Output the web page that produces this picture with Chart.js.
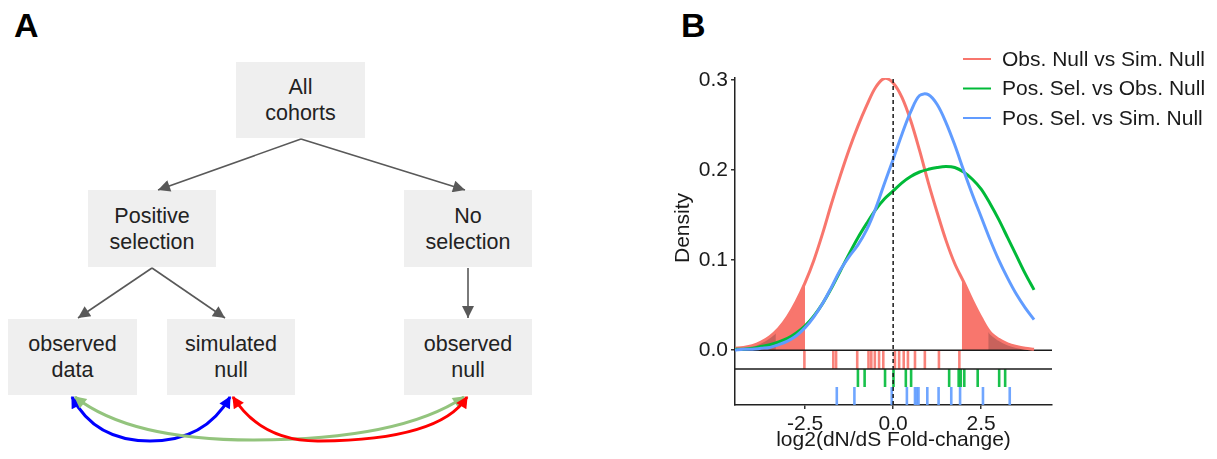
<!DOCTYPE html>
<html><head><meta charset="utf-8">
<script src="https://cdn.jsdelivr.net/npm/chart.js@4"></script>
<style>
html,body{margin:0;padding:0;background:#fff;}
body{width:1217px;height:459px;position:relative;overflow:hidden;font-family:'Liberation Sans',Arial,sans-serif;}
.box{position:absolute;background:#efefef;display:flex;align-items:center;justify-content:center;text-align:center;font-size:21.5px;line-height:26px;color:#222;}
.plabel{position:absolute;font-weight:bold;font-size:34px;line-height:34px;color:#000;}
#arrows{position:absolute;left:0;top:0;}
#wrapB{position:absolute;left:660px;top:0;width:557px;height:459px;}
</style></head>
<body>
<div class="plabel" style="left:14px;top:8px">A</div>
<div class="plabel" style="left:681px;top:8px">B</div>

<div class="box" style="left:236px;top:62px;width:129px;height:76px">All<br>cohorts</div>
<div class="box" style="left:88px;top:190px;width:128px;height:77px">Positive<br>selection</div>
<div class="box" style="left:404px;top:190px;width:128px;height:77px">No<br>selection</div>
<div class="box" style="left:8px;top:319px;width:129px;height:76px">observed<br>data</div>
<div class="box" style="left:167px;top:319px;width:128px;height:76px">simulated<br>null</div>
<div class="box" style="left:404px;top:319px;width:128px;height:76px">observed<br>null</div>

<svg id="arrows" width="600" height="459" xmlns="http://www.w3.org/2000/svg">
<defs>
<marker id="mg" viewBox="0 0 10 10" refX="10" refY="5" markerWidth="14" markerHeight="12" markerUnits="userSpaceOnUse" orient="auto"><path d="M0,0 L10,5 L0,10 z" fill="#595959"/></marker>
<marker id="mb" viewBox="0 0 10 10" refX="9" refY="5" markerWidth="14" markerHeight="12" markerUnits="userSpaceOnUse" orient="auto-start-reverse"><path d="M0,0 L10,5 L0,10 z" fill="#0000ff"/></marker>
<marker id="mr" viewBox="0 0 10 10" refX="9" refY="5" markerWidth="14" markerHeight="12" markerUnits="userSpaceOnUse" orient="auto-start-reverse"><path d="M0,0 L10,5 L0,10 z" fill="#ff0000"/></marker>
<marker id="mgr" viewBox="0 0 10 10" refX="9" refY="5" markerWidth="14" markerHeight="12" markerUnits="userSpaceOnUse" orient="auto-start-reverse"><path d="M0,0 L10,5 L0,10 z" fill="#93c47d"/></marker>
</defs>
<g stroke="#595959" stroke-width="1.6" fill="none">
<line x1="301" y1="139" x2="158" y2="190" marker-end="url(#mg)"/>
<line x1="301" y1="139" x2="465" y2="190" marker-end="url(#mg)"/>
<line x1="152" y1="268" x2="78" y2="318" marker-end="url(#mg)"/>
<line x1="152" y1="268" x2="225" y2="318" marker-end="url(#mg)"/>
<line x1="468" y1="268" x2="468" y2="318" marker-end="url(#mg)"/>
</g>
<g fill="none" stroke-width="3">
<path d="M72 397 Q95 441 150 441 Q205 441 230 397" stroke="#0000ff" marker-start="url(#mb)" marker-end="url(#mb)"/>
<path d="M75 397 Q130 440 253 440 Q400 440 464 397" stroke="#93c47d" marker-start="url(#mgr)" marker-end="url(#mgr)"/>
<path d="M233 397 Q262 442 320 441 Q440 440 467 397" stroke="#ff0000" marker-start="url(#mr)" marker-end="url(#mr)"/>
</g>
</svg>

<div id="wrapB"><canvas id="c" width="557" height="459"></canvas></div>

<script>
// ---- data ----
const xGrid = [-4.5,-4.25,-4,-3.75,-3.5,-3.25,-3,-2.75,-2.5,-2.25,-2,-1.75,-1.5,-1.25,-1,-0.75,-0.5,-0.25,0,0.25,0.5,0.75,1,1.25,1.5,1.75,2,2.25,2.5,2.75,3,3.25,3.5,3.75,4];
const obsNullVsSimNull = [0.002,0.003,0.005,0.009,0.015,0.024,0.037,0.054,0.075,0.100,0.130,0.163,0.194,0.223,0.249,0.272,0.292,0.302,0.297,0.281,0.255,0.222,0.186,0.153,0.122,0.096,0.076,0.055,0.036,0.020,0.012,0.007,0.004,0.002,0.001];
const posSelVsObsNull = [0.001,0.001,0.002,0.004,0.006,0.009,0.013,0.019,0.027,0.038,0.052,0.069,0.088,0.107,0.125,0.141,0.156,0.168,0.177,0.186,0.193,0.198,0.201,0.203,0.204,0.203,0.198,0.190,0.179,0.163,0.145,0.125,0.105,0.085,0.067];
const posSelVsSimNull = [0.000,0.001,0.001,0.002,0.003,0.006,0.010,0.016,0.025,0.037,0.052,0.070,0.089,0.104,0.117,0.134,0.157,0.185,0.212,0.240,0.265,0.283,0.284,0.273,0.253,0.228,0.200,0.173,0.148,0.123,0.100,0.080,0.062,0.047,0.034];

// tail shading of the red curve (light beyond inner cuts, dark beyond outer cuts)
const lightCuts = [-2.5, 1.95];
const lightCutValues = [0.075, 0.080];
const darkCuts = [-3.33, 2.7];
const darkCutValues = [0.020, 0.022];

// rug positions
const rugObsNull = [-2.52,-1.70,-1.62,-1.02,-0.70,-0.62,-0.52,-0.40,-0.28,0.05,0.17,0.30,0.42,0.62,0.90,1.30,1.88];
const rugPosObs = [-1.00,-0.81,-0.23,0.01,0.36,0.51,1.59,1.86,1.92,2.02,2.40,3.01,3.18];
const rugPosSim = [-1.60,-1.10,-0.04,0.39,0.62,0.67,0.72,0.97,1.29,1.65,1.90,2.55,3.31];
const rugBands = [[0,-0.021],[-0.021,-0.041],[-0.041,-0.061]];

const seriesNames = ['Obs. Null vs Sim. Null','Pos. Sel. vs Obs. Null','Pos. Sel. vs Sim. Null'];
const xTicks = [-2.5, 0, 2.5];
const yTicks = [0, 0.1, 0.2, 0.3];
const xRange = [-4.49, 4.51];
const yRange = [-0.061, 0.3025];
const xTitle = 'log2(dN/dS Fold-change)';
const yTitle = 'Density';

// ---- styles ----
const colors = ['#F8766D','#00BA38','#619CFF'];
const FONT = "'Liberation Sans', Arial, sans-serif";
const FS = 21;
Chart.defaults.font.family = FONT;
Chart.defaults.color = '#1a1a1a';

const pts = (xs, ys) => xs.map((x,i)=>({x, y: ys[i]}));
const redPts = pts(xGrid, obsNullVsSimNull);
const tail = (cut, val, side) => {
  const inside = redPts.filter(p => side < 0 ? p.x < cut : p.x > cut);
  return side < 0 ? inside.concat([{x:cut,y:val}]) : [{x:cut,y:val}].concat(inside);
};

const curveBase = {type:'scatter', showLine:true, pointRadius:0, borderWidth:3, tension:0.35, fill:false};
const fillBase = {type:'scatter', showLine:true, pointRadius:0, borderWidth:0, tension:0.35, fill:'origin'};

function rugDataset(xs, band, color){
  const mid = (band[0]+band[1])/2;
  return {
    type:'scatter', data: xs.map(x=>({x, y: mid})), showLine:false,
    pointStyle:'line', rotation:90,
    pointRadius: ctx => { const s = ctx.chart.scales.y; return Math.abs(s.getPixelForValue(band[0]) - s.getPixelForValue(band[1]))/2; },
    pointBorderColor: color, pointBorderWidth: 2.6, pointBackgroundColor: color, order: 5
  };
}

const datasets = [
  {...fillBase, data: tail(lightCuts[0], lightCutValues[0], -1), backgroundColor:'#F8766D', borderColor:'#F8766D', order: 20},
  {...fillBase, data: tail(lightCuts[1], lightCutValues[1], 1), backgroundColor:'#F8766D', borderColor:'#F8766D', order: 20},
  {...fillBase, data: tail(darkCuts[0], darkCutValues[0], -1), backgroundColor:'#c8625c', borderColor:'#c8625c', order: 19},
  {...fillBase, data: tail(darkCuts[1], darkCutValues[1], 1), backgroundColor:'#c8625c', borderColor:'#c8625c', order: 19},
  {type:'scatter', showLine:true, pointRadius:0, borderWidth:1.5, borderColor:'#1a1a1a', data:[{x:xRange[0],y:rugBands[0][0]},{x:xRange[1],y:rugBands[0][0]}], order: 4},
  {type:'scatter', showLine:true, pointRadius:0, borderWidth:1.5, borderColor:'#1a1a1a', data:[{x:xRange[0],y:rugBands[1][0]},{x:xRange[1],y:rugBands[1][0]}], order: 4},
  rugDataset(rugObsNull, rugBands[0], 'rgba(248,118,109,0.9)'),
  rugDataset(rugPosObs, rugBands[1], 'rgba(0,186,56,0.9)'),
  rugDataset(rugPosSim, rugBands[2], 'rgba(97,156,255,0.9)'),
  {...curveBase, data: redPts, borderColor: colors[0], order: 3},
  {...curveBase, data: pts(xGrid, posSelVsObsNull), borderColor: colors[1], order: 2},
  {...curveBase, data: pts(xGrid, posSelVsSimNull), borderColor: colors[2], order: 1},
  {type:'scatter', showLine:true, pointRadius:0, borderWidth:1.5, borderColor:'#1a1a1a', borderDash:[4,3], data:[{x:0,y:yRange[0]},{x:0,y:yRange[1]}], order: 0}
];

const legendPlugin = {
  id:'customLegend',
  afterDraw(chart){
    const ctx = chart.ctx;
    ctx.save();
    ctx.font = FS + 'px ' + FONT;
    ctx.textBaseline = 'middle';
    seriesNames.forEach((name,i)=>{
      const y = 59 + i*29.5;
      ctx.strokeStyle = colors[i]; ctx.lineWidth = 2;
      ctx.beginPath(); ctx.moveTo(303,y); ctx.lineTo(331,y); ctx.stroke();
      ctx.fillStyle = '#1a1a1a'; ctx.fillText(name, 342, y+1);
    });
    // y-axis title
    ctx.translate(23, 228);
    ctx.rotate(-Math.PI/2);
    ctx.textAlign = 'center';
    ctx.fillText(yTitle, 0, 0);
    ctx.restore();
  }
};

const axisCommon = {
  type:'linear',
  grid:{drawOnChartArea:false, drawTicks:true, tickLength:4, color:'#333', lineWidth:1.5},
  border:{display:true, color:'#222', width:1.5},
  ticks:{color:'#1a1a1a', font:{size:FS}, padding:3, callback: v => Number(v).toFixed(1)}
};

new Chart(document.getElementById('c'), {
  type:'scatter',
  data:{datasets},
  plugins:[legendPlugin],
  options:{
    responsive:false, animation:false, events:[],
    layout:{padding:{left:0, top:78, right:165, bottom:0}},
    plugins:{legend:{display:false}, tooltip:{enabled:false}},
    scales:{
      x:{...axisCommon, min:xRange[0], max:xRange[1],
         afterBuildTicks: s => { s.ticks = xTicks.map(v=>({value:v})); },
         afterFit: s => { s.height = 54; },
         title:{display:true, text:xTitle, color:'#1a1a1a', font:{size:FS}, padding:{top:0,bottom:6}}},
      y:{...axisCommon, min:yRange[0], max:yRange[1],
         afterBuildTicks: s => { s.ticks = yTicks.map(v=>({value:v})); },
         afterFit: s => { s.width = 75; },
         title:{display:false}}
    }
  }
});
</script>
</body></html>
